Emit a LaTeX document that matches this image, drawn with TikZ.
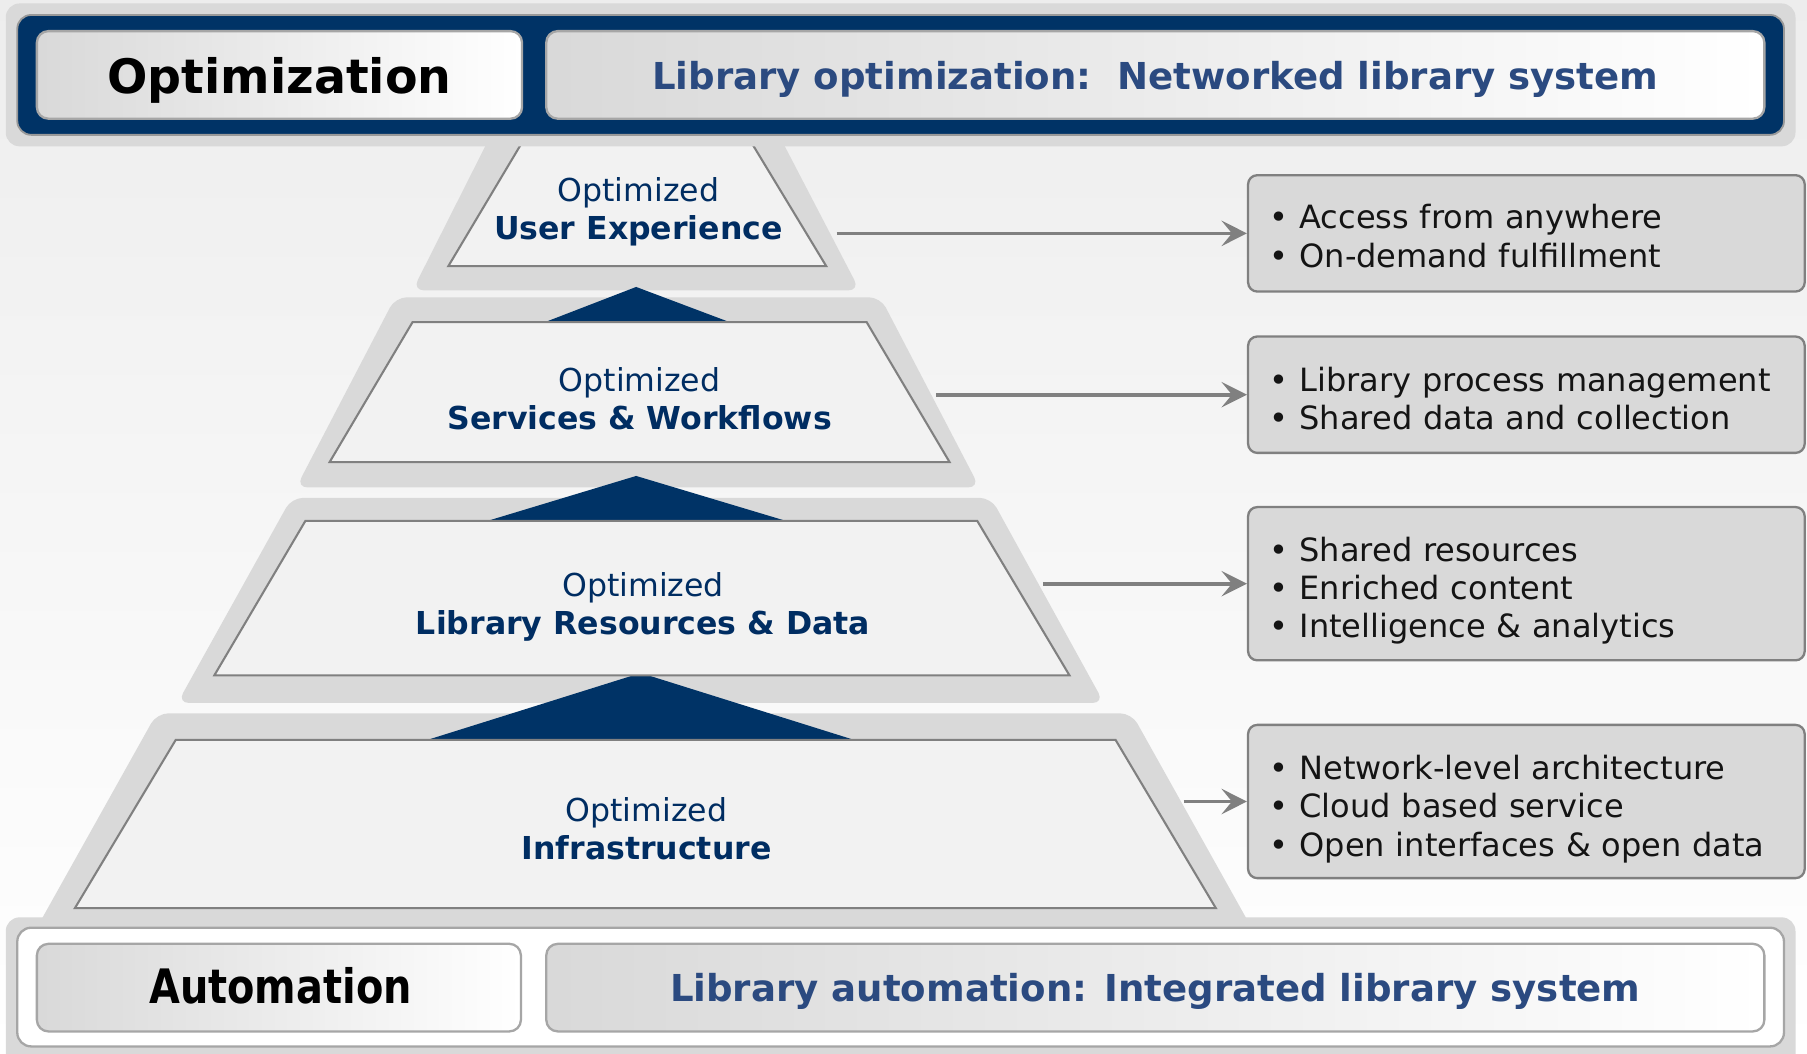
\documentclass[tikz,border=0pt]{standalone}
\usepackage{fontspec}
\usepackage{graphicx}
\setmainfont{DejaVu Sans}
\usetikzlibrary{arrows.meta}
\definecolor{navy}{RGB}{0,51,102}
\definecolor{bandgray}{RGB}{217,217,217}
\definecolor{innerfill}{RGB}{242,242,242}
\definecolor{edgegray}{RGB}{128,128,128}
\definecolor{titletext}{RGB}{43,74,128}
\definecolor{pyrtext}{RGB}{0,45,98}
\begin{document}
\begin{tikzpicture}[x=0.5pt,y=0.5pt,
  lvl/.style={fill=bandgray, rounded corners=5pt},
  trap/.style={fill=innerfill, draw=edgegray, line width=0.9pt},
  tri/.style={fill=navy},
  gradbox/.style={draw=black!35, line width=1pt, rounded corners=5pt, left color=black!15, right color=white, minimum height=38pt, inner sep=0pt},
  bigword/.style={anchor=base, font=\fontsize{20.6}{24}\selectfont\bfseries, text=black},
  bandword/.style={anchor=base, font=\fontsize{16.1}{19}\selectfont\bfseries, text=titletext},
  pyrlight/.style={anchor=base, font=\fontsize{13.7}{16}\selectfont, text=pyrtext},
  pyrbold/.style={anchor=base, font=\fontsize{13.7}{16}\selectfont\bfseries, text=pyrtext},
  infobox/.style={draw=edgegray, line width=1pt, fill=bandgray, rounded corners=4pt, minimum width=241.5pt, text width=222.5pt, inner xsep=9.5pt, inner ysep=0pt, align=left, font=\fontsize{13.9}{16.6}\selectfont, text=black!92},
  conn/.style={draw=edgegray, line width=1.6pt, -{Stealth[length=11pt,width=11pt,inset=4.5pt]}}
]
\useasboundingbox (0,0) rectangle (1568,-914);
% background
\fill[top color=black!7, bottom color=white] (0,0) rectangle (1568,-914);

% outer level shapes
\fill[lvl] (434.6,-100) -- (667,-100) -- (746,-252) -- (358,-252) -- cycle;
\fill[lvl] (343,-258) -- (764,-258) -- (850,-423) -- (257,-423) -- cycle;
\fill[lvl] (253,-432) -- (860,-432) -- (958,-610) -- (154,-610) -- cycle;
\fill[lvl] (136,-619) -- (982,-619) -- (1100,-830) -- (18,-830) -- cycle;

% navy triangles
\fill[tri] (552,-249) -- (633,-279.5) -- (473,-279.5) -- cycle;
\fill[tri] (552,-413) -- (682,-452) -- (423,-452) -- cycle;
\fill[tri] (556,-584) -- (741,-642) -- (371,-642) -- cycle;

% inner trapezoids
\draw[trap] (452.8,-124) -- (652.2,-124) -- (717,-231) -- (389,-231) -- cycle;
\draw[trap] (358,-279.5) -- (752,-279.5) -- (824,-401) -- (286,-401) -- cycle;
\draw[trap] (265,-452) -- (848,-452) -- (928,-586) -- (186,-586) -- cycle;
\draw[trap] (152.5,-642) -- (968,-642) -- (1055,-788) -- (65,-788) -- cycle;

% top band
\fill[bandgray, rounded corners=6pt] (5,-3) rectangle (1558,-127);
\draw[fill=navy, draw=black!40, line width=0.8pt, rounded corners=6pt] (15,-13) rectangle (1548,-117);
\node[gradbox, minimum width=210.5pt] (optbox) at (242.5,-65) {};
\node[gradbox, minimum width=528.5pt] (optdesc) at (1002.5,-65) {};
\node[bigword] (optlabel) at (242.5,-81) {Optimization};
\node[bandword] (optdesclabel) at (1002.5,-77.5) {Library optimization:\ \ Networked library system};

% bottom band
\fill[bandgray, rounded corners=6pt] (5,-796) rectangle (1558,-930);
\draw[fill=white, draw=black!35, line width=1pt, rounded corners=6pt] (15,-805) rectangle (1548,-908);
\node[gradbox, minimum width=210pt] (autobox) at (242,-857) {};
\node[gradbox, minimum width=528.5pt] (autodesc) at (1002.5,-857) {};
\node[bigword] (autolabel) at (243.5,-871) {\scalebox{0.84}[1]{Automation}};
\node[bandword] (autodesclabel) at (1002.5,-869) {Library automation: Integrated library system};

% pyramid labels
\node[pyrlight] (l1a) at (554,-175) {Optimized};
\node[pyrbold] (l1b) at (554,-208) {User Experience};
\node[pyrlight] (l2a) at (555,-340) {Optimized};
\node[pyrbold] (l2b) at (555,-372.4) {Services \& Workflows};
\node[pyrlight] (l3a) at (558,-517.5) {Optimized};
\node[pyrbold] (l3b) at (558,-551) {Library Resources \& Data};
\node[pyrlight] (l4a) at (561,-713) {Optimized};
\node[pyrbold] (l4b) at (561,-746) {Infrastructure};

% info boxes
\node[infobox, minimum height=50.5pt] (b1) at (1324.5,-202.5) {\rule{0pt}{12.8pt}• Access from anywhere\\• On-demand fulfillment};
\node[infobox, minimum height=50.5pt] (b2) at (1324.5,-342.5) {\rule{0pt}{13.6pt}• Library process management\\• Shared data and collection};
\node[infobox, minimum height=66.5pt] (b3) at (1324.5,-506.5) {\rule{0pt}{16.6pt}• Shared resources\\• Enriched content\\• Intelligence \& analytics};
\node[infobox, minimum height=66.5pt] (b4) at (1324.5,-695.5) {\rule{0pt}{17pt}• Network-level architecture\\• Cloud based service\\• Open interfaces \& open data};

% connectors
\coordinate (s1) at (726,-202.5);
\coordinate (s2) at (812,-342.5);
\coordinate (s3) at (905,-506.5);
\coordinate (s4) at (1027,-695.5);
\draw[conn] (s1) -- (b1.west);
\draw[conn] (s2) -- (b2.west);
\draw[conn] (s3) -- (b3.west);
\draw[conn] (s4) -- (b4.west);
\end{tikzpicture}
\end{document}
